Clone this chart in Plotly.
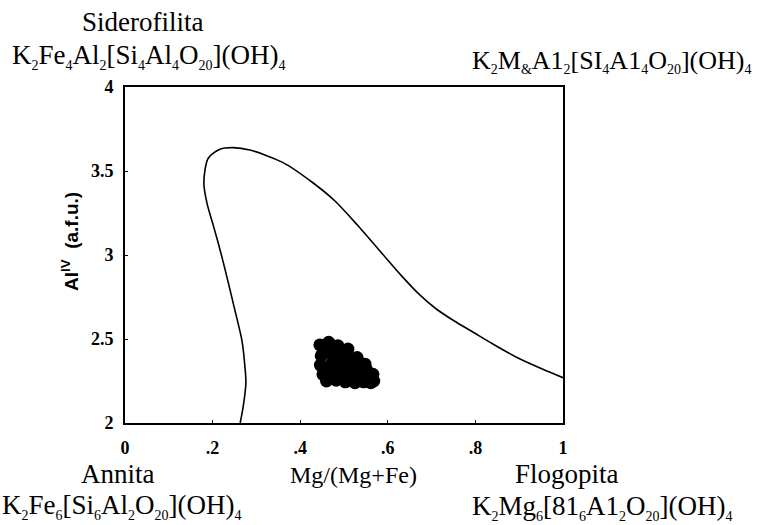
import plotly.graph_objects as go

# Field boundary curve (Mg/(Mg+Fe), Al IV)
curve_x = [0.263, 0.270, 0.276, 0.274, 0.267, 0.251, 0.240, 0.225, 0.213, 0.200, 0.187,
           0.180, 0.190, 0.217, 0.247, 0.285, 0.361, 0.429, 0.480, 0.530, 0.580, 0.630,
           0.670, 0.710, 0.750, 0.795, 0.840, 0.895, 0.954, 1.000]
curve_y = [2.00, 2.10, 2.24, 2.33, 2.49, 2.67, 2.79, 2.95, 3.07, 3.19, 3.31,
           3.43, 3.576, 3.63, 3.639, 3.625, 3.55, 3.43, 3.32, 3.18, 3.03, 2.88,
           2.77, 2.68, 2.61, 2.54, 2.47, 2.39, 2.32, 2.27]

# Biotite samples (cluster)
samp_x = [0.445, 0.448, 0.446, 0.452, 0.460, 0.465, 0.470, 0.474, 0.473, 0.482,
          0.486, 0.492, 0.496, 0.498, 0.503, 0.509, 0.515, 0.514, 0.520, 0.525,
          0.530, 0.535, 0.540, 0.545, 0.551, 0.555, 0.561, 0.566, 0.568, 0.548,
          0.458, 0.480, 0.505, 0.528, 0.455, 0.490, 0.520, 0.545, 0.560, 0.470]
samp_y = [2.465, 2.400, 2.345, 2.290, 2.250, 2.480, 2.420, 2.365, 2.305, 2.255,
          2.460, 2.400, 2.340, 2.285, 2.245, 2.440, 2.385, 2.330, 2.275, 2.240,
          2.390, 2.345, 2.290, 2.245, 2.320, 2.270, 2.240, 2.290, 2.250, 2.350,
          2.440, 2.445, 2.415, 2.360, 2.320, 2.310, 2.300, 2.300, 2.280, 2.345]

x_tickvals = [0, 0.2, 0.4, 0.6, 0.8, 1.0]
x_ticktext = ["0", ".2", ".4", ".6", ".8", "1"]
y_tickvals = [2, 2.5, 3, 3.5, 4]
y_ticktext = ["2", "2.5", "3", "3.5", "4"]

W, H = 781, 525
L, R, T, B = 125, 563, 87, 423


def px(x):
    return (x - L) / (R - L)


def py(y):
    return (B - y) / (B - T)


def sb(s):
    return '<sub><span style="font-size:14px">' + s + '</span></sub>'


fig = go.Figure()
fig.add_trace(go.Scatter(x=curve_x, y=curve_y, mode="lines",
                         line=dict(color="black", width=1.6, shape="spline", smoothing=0.8),
                         showlegend=False, hoverinfo="skip"))
fig.add_trace(go.Scatter(x=samp_x, y=samp_y, mode="markers",
                         marker=dict(color="black", size=13, symbol="circle", line=dict(width=0)),
                         showlegend=False))

serif = "Liberation Serif, Times New Roman, serif"
ann = []


def add(text, x, y, xa="center", size=27, fam=serif, angle=0, color="black"):
    ann.append(dict(text=text, x=px(x), y=py(y), xref="paper", yref="paper",
                    xanchor=xa, yanchor="middle", showarrow=False, textangle=angle,
                    font=dict(family=fam, size=size, color=color)))


add("Siderofilita", 142, 22)
add("K" + sb("2") + "Fe" + sb("4") + "Al" + sb("2") + "[Si" + sb("4") + "Al" + sb("4") + "O" + sb("20")
    + "](OH)" + sb("4"), 10, 56, xa="left", size=27)
add("K" + sb("2") + "M" + sb("&amp;") + "A1" + sb("2") + "[SI" + sb("4") + "A1" + sb("4") + "O" + sb("20")
    + "](OH)" + sb("4"), 470, 61, xa="left", size=26)
add("Annita", 118, 474)
add("Mg/(Mg+Fe)", 353, 475, size=24)
add("Flogopita", 567, 474)
add("K" + sb("2") + "Fe" + sb("6") + "[Si" + sb("6") + "Al" + sb("2") + "O" + sb("20") + "](OH)" + sb("4"),
    0, 506, xa="left", size=27)
add("K" + sb("2") + "Mg" + sb("6") + "[81" + sb("6") + "A1" + sb("2") + "O" + sb("20") + "](OH)" + sb("4"),
    470, 507, xa="left", size=27)
ann.append(dict(text="<b>Al<sup>IV</sup>  (a.f.u.)</b>", x=px(70), y=py(242), xref="paper", yref="paper",
                xanchor="center", yanchor="middle", showarrow=False, textangle=-90,
                font=dict(family="Liberation Sans, Arial, sans-serif", size=19, color="black")))

tickfont = dict(family=serif, size=18, color="black", weight="bold")

fig.update_layout(
    width=W, height=H,
    margin=dict(l=L, r=W - R, t=T, b=H - B, pad=0),
    paper_bgcolor="white", plot_bgcolor="white",
    annotations=ann,
    xaxis=dict(range=[0, 1], tickvals=x_tickvals, ticktext=x_ticktext, showgrid=False,
               zeroline=False, showline=True, linecolor="black", linewidth=2, mirror=True,
               ticks="inside", ticklen=3, tickcolor="black", tickfont=tickfont,
               ticklabelstandoff=7),
    yaxis=dict(range=[2, 4], tickvals=y_tickvals, ticktext=y_ticktext, showgrid=False,
               zeroline=False, showline=True, linecolor="black", linewidth=2, mirror=True,
               ticks="inside", ticklen=3, tickcolor="black", tickfont=tickfont,
               ticklabelstandoff=6),
    showlegend=False,
)

fig.write_html("out.html", config={"displayModeBar": False},
               post_script="document.body.style.margin='0';document.body.style.overflow='hidden';")
